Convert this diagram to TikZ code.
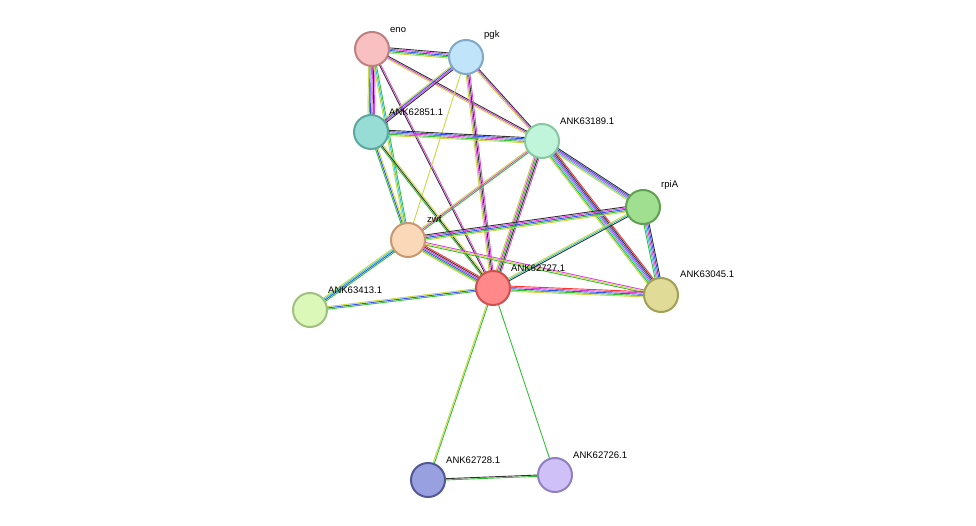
\documentclass[tikz,border=0pt]{standalone}
\usepackage{fontspec}
\setmainfont{Liberation Sans}
\usetikzlibrary{calc}
\definecolor{cyg}{HTML}{C8D840}
\definecolor{cgr}{HTML}{33C033}
\definecolor{cbl}{HTML}{3355EE}
\definecolor{ccy}{HTML}{33C8D0}
\definecolor{cmg}{HTML}{DD44DD}
\definecolor{cbk}{HTML}{333333}
\definecolor{crd}{HTML}{FF3333}
\newcommand\medge[4]{%
  \foreach \cc [count=\ii] in {#4}{%
    \pgfmathsetmacro\off{(\ii-1-(#3-1)/2)*1.3}%
    \draw[\cc,line width=0.9pt] ($(#1)!\off pt!90:(#2)$) -- ($(#2)!\off pt!-90:(#1)$);
  }}
\tikzset{prot/.style={circle,minimum size=34pt,inner sep=0pt,line width=2pt},
 lab/.style={font=\fontsize{9.5}{11}\selectfont,anchor=south west,inner sep=1pt}}
\begin{document}
\begin{tikzpicture}[x=1pt,y=-1pt]
\useasboundingbox (0,0) rectangle (976,526);
\fill[white] (0,0) rectangle (976,526);
\coordinate (eno) at (372,49);
\coordinate (pgk) at (466,57);
\coordinate (a51) at (371,132);
\coordinate (a89) at (542,141);
\coordinate (rpi) at (643,207);
\coordinate (zwf) at (408,240);
\coordinate (a27) at (493,288);
\coordinate (a45) at (661,295);
\coordinate (a13) at (310,310);
\coordinate (a28) at (428,480);
\coordinate (a26) at (555,475);
\medge{eno}{pgk}{5}{cyg,cgr,cbl,cmg,cbk}
\medge{eno}{a51}{6}{cyg,cgr,cbl,cmg,cbk,cmg}
\medge{eno}{a89}{3}{cyg,cmg,cbk}
\medge{eno}{zwf}{3}{cyg,ccy,cgr}
\medge{eno}{a27}{2}{cbk,cmg}
\medge{pgk}{a51}{4}{cyg,cbl,cmg,cbk}
\medge{pgk}{a89}{3}{cyg,cmg,cbk}
\medge{pgk}{a27}{4}{cyg,cmg,cbk,cmg}
\medge{pgk}{zwf}{1}{cyg}
\medge{a51}{a89}{5}{cyg,cgr,cmg,cbl,cbk}
\medge{a51}{zwf}{3}{cgr,cbl,cyg}
\medge{a51}{a27}{3}{cgr,cbk,cyg}
\medge{a89}{zwf}{3}{cyg,cmg,cgr}
\medge{a89}{a27}{5}{cyg,cmg,cgr,cbk,cmg}
\medge{a89}{rpi}{5}{cyg,ccy,cmg,cbl,cbk}
\medge{a89}{a45}{7}{cyg,cgr,ccy,cmg,cbl,cbk,crd}
\medge{zwf}{rpi}{5}{cyg,cgr,cbl,cmg,cbk}
\medge{zwf}{a27}{6}{cyg,cgr,cbl,cmg,cbk,crd}
\medge{zwf}{a45}{3}{cgr,cyg,cmg}
\medge{zwf}{a13}{4}{cyg,ccy,cbl,cgr}
\medge{a27}{rpi}{3}{cbk,ccy,cyg}
\medge{a27}{a45}{5}{cyg,cgr,cbl,cmg,crd}
\medge{a27}{a13}{3}{cyg,cbl,cgr}
\medge{a27}{a28}{2}{cyg,cgr}
\medge{a27}{a26}{1}{cgr}
\medge{rpi}{a45}{5}{cgr,ccy,cmg,cbl,cbk}
\medge{a28}{a26}{2}{cgr,cbk}
\node[prot,fill={rgb,255:red,248;green,192;blue,192},draw={rgb,255:red,192;green,128;blue,128}] (n-eno) at (eno) {};
\node[prot,fill={rgb,255:red,192;green,228;blue,250},draw={rgb,255:red,128;green,168;blue,200}] (n-pgk) at (pgk) {};
\node[prot,fill={rgb,255:red,152;green,221;blue,213},draw={rgb,255:red,91;green,168;blue,158}] (n-a51) at (a51) {};
\node[prot,fill={rgb,255:red,192;green,245;blue,220},draw={rgb,255:red,136;green,200;blue,160}] (n-a89) at (a89) {};
\node[prot,fill={rgb,255:red,160;green,222;blue,144},draw={rgb,255:red,96;green,160;blue,80}] (n-rpi) at (rpi) {};
\node[prot,fill={rgb,255:red,251;green,216;blue,184},draw={rgb,255:red,200;green,152;blue,112}] (n-zwf) at (zwf) {};
\node[prot,fill={rgb,255:red,255;green,136;blue,136},draw={rgb,255:red,208;green,80;blue,80}] (n-a27) at (a27) {};
\node[prot,fill={rgb,255:red,224;green,220;blue,152},draw={rgb,255:red,160;green,160;blue,88}] (n-a45) at (a45) {};
\node[prot,fill={rgb,255:red,220;green,248;blue,184},draw={rgb,255:red,160;green,192;blue,128}] (n-a13) at (a13) {};
\node[prot,fill={rgb,255:red,152;green,160;blue,224},draw={rgb,255:red,80;green,88;blue,152}] (n-a28) at (a28) {};
\node[prot,fill={rgb,255:red,208;green,192;blue,248},draw={rgb,255:red,144;green,128;blue,192}] (n-a26) at (a26) {};
\node[lab] at (389,34) {eno};
\node[lab] at (483,41) {pgk};
\node[lab] at (388,117) {ANK62851.1};
\node[lab] at (559,126) {ANK63189.1};
\node[lab] at (660,191) {rpiA};
\node[lab] at (426,224) {zwf};
\node[lab] at (510,273) {ANK62727.1};
\node[lab] at (679,279) {ANK63045.1};
\node[lab] at (327,295) {ANK63413.1};
\node[lab] at (445,465) {ANK62728.1};
\node[lab] at (572,460) {ANK62726.1};
\end{tikzpicture}
\end{document}
